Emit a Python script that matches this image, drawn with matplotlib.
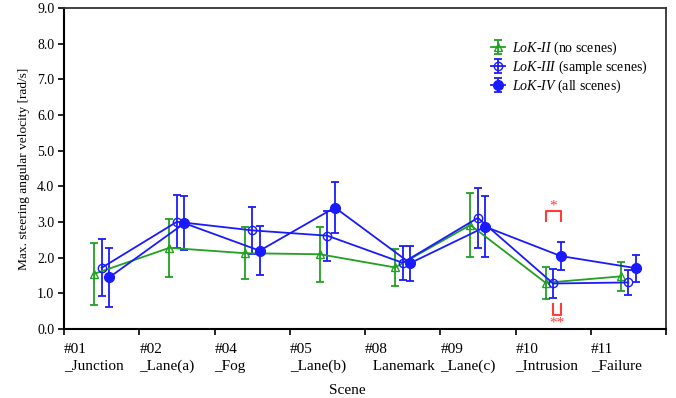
import numpy as np
import matplotlib.pyplot as plt

plt.rcParams['font.family'] = ['Liberation Serif', 'DejaVu Serif']
plt.rcParams['mathtext.fontset'] = 'custom'
plt.rcParams['mathtext.it'] = 'Liberation Serif:italic'
plt.rcParams['mathtext.rm'] = 'Liberation Serif'

scenes = ["#01\n_Junction", "#02\n_Lane(a)", "#04\n_Fog", "#05\n_Lane(b)",
          "#08\n  Lanemark", "#09\n_Lane(c)", "#10\n_Intrusion", "#11\n_Failure"]

lok2_mean = [1.55, 2.28, 2.13, 2.10, 1.73, 2.92, 1.30, 1.48]
lok2_err = [0.87, 0.82, 0.73, 0.77, 0.52, 0.91, 0.45, 0.41]
lok3_mean = [1.72, 3.01, 2.77, 2.62, 1.86, 3.12, 1.28, 1.31]
lok3_err = [0.80, 0.74, 0.66, 0.70, 0.48, 0.84, 0.40, 0.36]
lok4_mean = [1.45, 2.97, 2.20, 3.41, 1.85, 2.87, 2.05, 1.71]
lok4_err = [0.82, 0.75, 0.69, 0.72, 0.49, 0.85, 0.40, 0.38]

green = '#22a022'
blue = '#1a1aff'
red = '#ff3b3b'

fig = plt.figure(figsize=(6.76, 3.98), dpi=100)
ax = fig.add_axes([0.0947, 0.173, 0.8905, 0.8065])

x = np.arange(len(scenes))
ax.errorbar(x - 0.1, lok2_mean, yerr=lok2_err, color=green, marker='^', ms=6,
            mfc='none', mec=green, lw=1.3, capsize=3, capthick=1.3,
            label=r"$LoK$-$II$ (no scenes)")
ax.errorbar(x, lok3_mean, yerr=lok3_err, color=blue, marker='o', ms=6,
            mfc='none', mec=blue, lw=1.3, capsize=3, capthick=1.3,
            label=r"$LoK$-$III$ (sample scenes)")
ax.errorbar(x + 0.1, lok4_mean, yerr=lok4_err, color=blue, marker='o', ms=7,
            mfc=blue, mec=blue, lw=1.3, capsize=3, capthick=1.3,
            label=r"$LoK$-$IV$ (all scenes)")

# significance marks at #10 Intrusion
i = 6
ax.plot([i - 0.1, i - 0.1, i + 0.1, i + 0.1], [3.03, 3.31, 3.31, 3.03], color=red, lw=1.5)
ax.text(i, 3.27, "*", color=red, ha='center', va='bottom', fontsize=11)
ax.plot([i, i, i + 0.1, i + 0.1], [0.70, 0.41, 0.41, 0.70], color=red, lw=1.5)
ax.text(i + 0.05, 0.35, "**", color=red, ha='center', va='top', fontsize=11)

ax.set_xlim(-0.5, 7.5)
ax.set_ylim(0, 9)
ax.set_yticks(np.arange(0, 9.5, 1.0))
ax.set_yticklabels(["%.1f" % v for v in np.arange(0, 9.5, 1.0)], fontsize=10)

ax.set_xticks(np.arange(-0.5, 8, 1.0))
ax.set_xticklabels(scenes + [""], fontsize=11, ha='left', linespacing=1.35)
ax.tick_params(direction='out', length=4, width=1.2)
ax.tick_params(axis='x', pad=6)
ax.tick_params(axis='y', pad=3)

ax.set_ylabel("Max. steering angular velocity [rad/s]", fontsize=9.6, labelpad=5)
ax.set_xlabel("Scene", fontsize=11)
ax.xaxis.set_label_coords(0.47, -0.17)

for s in ['left', 'bottom']:
    ax.spines[s].set_linewidth(1.5)
    ax.spines[s].set_color('black')
for s in ['top', 'right']:
    ax.spines[s].set_linewidth(1.3)
    ax.spines[s].set_color('#333333')

ax.legend(loc='upper right', bbox_to_anchor=(0.99, 0.94), frameon=False,
          fontsize=10, handlelength=1.0, handletextpad=0.5, labelspacing=0.12)

fig.savefig("out.png", dpi=100)
